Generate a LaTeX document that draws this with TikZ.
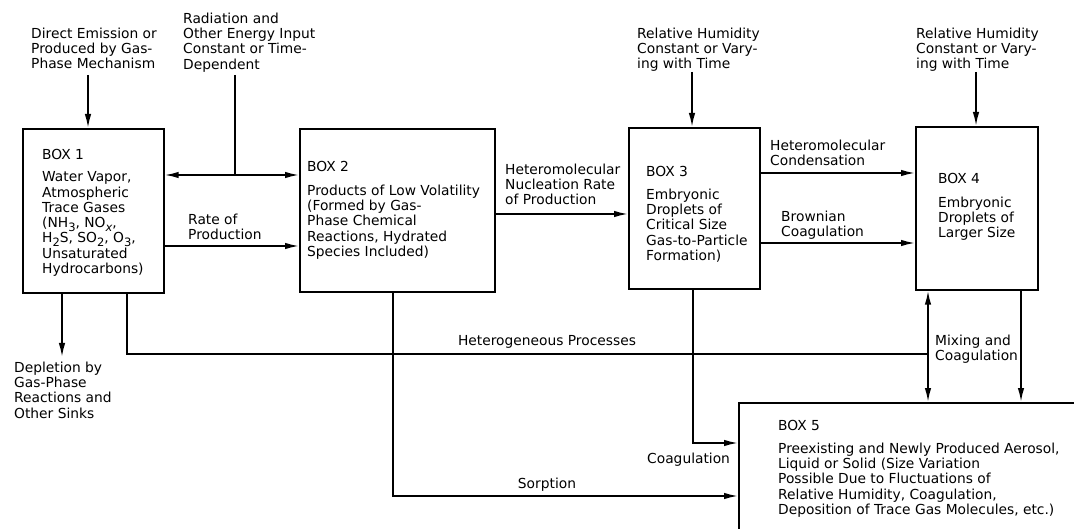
\documentclass[tikz,border=0pt]{standalone}
\usepackage{fontspec}
\setmainfont{DejaVu Sans}
\usetikzlibrary{arrows.meta}
\newcommand\sbs[1]{\raisebox{-3.5pt}{\fontsize{11.5}{12}\selectfont #1}}
\begin{document}
\begin{tikzpicture}[x=1pt,y=-1pt,
  box/.style={draw, line width=1.7pt, inner sep=0pt, anchor=north west},
  txt/.style={anchor=north west, inner sep=0pt, align=left, font=\fontsize{13.8}{15.3}\selectfont},
  conn/.style={line width=1.7pt},
  arr/.style={conn, -{Latex[length=14pt,width=6.5pt]}},
  darr/.style={conn, {Latex[length=14pt,width=6.5pt]}-{Latex[length=14pt,width=6.5pt]}}]
\useasboundingbox (0,0) rectangle (1074,529);
% boxes
\node[box, minimum width=141pt, minimum height=164pt] (b1) at (22,128) {};
\node[box, minimum width=195pt, minimum height=163pt] (b2) at (299,128) {};
\node[box, minimum width=131pt, minimum height=161pt] (b3) at (628,127) {};
\node[box, minimum width=122pt, minimum height=163pt] (b4) at (915,126) {};
\begin{scope}
\clip (0,0) rectangle (1074,529);
\node[box, minimum width=500pt, minimum height=300pt] (b5) at (738,402) {};
\end{scope}
% box texts
\node[txt] (b1h) at (42,149.5) {BOX 1};
\node[txt] (b1t) at (42,171.5) {Water Vapor,\\Atmospheric\\Trace Gases\\(NH\sbs{3}, NO\sbs{\itshape x},\\H\sbs{2}S, SO\sbs{2}, O\sbs{3},\\Unsaturated\\Hydrocarbons)};
\node[txt] (b2h) at (307,161.5) {BOX 2};
\node[txt] (b2t) at (307,184.5) {Products of Low Volatility\\(Formed by Gas-\\Phase Chemical\\Reactions, Hydrated\\Species Included)};
\node[txt] (b3h) at (646,166.5) {BOX 3};
\node[txt] (b3t) at (646,188.5) {Embryonic\\Droplets of\\Critical Size\\Gas-to-Particle\\Formation)};
\node[txt] (b4h) at (938,173.5) {BOX 4};
\node[txt] (b4t) at (938,196.5) {Embryonic\\Droplets of\\Larger Size};
\node[txt] (b5h) at (778,420.5) {BOX 5};
\node[txt] (b5t) at (778,442.5) {Preexisting and Newly Produced Aerosol,\\Liquid or Solid (Size Variation\\Possible Due to Fluctuations of\\Relative Humidity, Coagulation,\\Deposition of Trace Gas Molecules, etc.)};
% outside texts
\node[txt] (t1) at (31,27.5) {Direct Emission or\\Produced by Gas-\\Phase Mechanism};
\node[txt] (t2) at (183,12.5) {Radiation and\\Other Energy Input\\Constant or Time-\\Dependent};
\node[txt] (t3) at (637,27.5) {Relative Humidity\\Constant or Vary-\\ing with Time};
\node[txt] (t4) at (916,27.5) {Relative Humidity\\Constant or Vary-\\ing with Time};
\node[txt] (l1) at (188,213.5) {Rate of\\Production};
\node[txt] (l2) at (505,163.5) {Heteromolecular\\Nucleation Rate\\of Production};
\node[txt] (l3) at (770,139.5) {Heteromolecular\\Condensation};
\node[txt] (l4) at (781,210.5) {Brownian\\Coagulation};
\node[txt, anchor=north] (l5) at (547,335.5) {Heterogeneous Processes};
\node[txt] (l6) at (935,334.5) {Mixing and\\Coagulation};
\node[txt] (l7) at (647,452.5) {Coagulation};
\node[txt, anchor=north] (l8) at (547,477.5) {Sorption};
\node[txt] (l9) at (14,361.5) {Depletion by\\Gas-Phase\\Reactions and\\Other Sinks};
% free ends and junctions
\coordinate (s1) at (88,75);
\coordinate (s2) at (235,75);
\coordinate (j1) at (235,175);
\coordinate (s3) at (692,72);
\coordinate (s4) at (976,72);
\coordinate (e1) at (62,357);
\coordinate (j2) at (928,354);
% connectors
\draw[arr] (s1) -- (s1 |- b1.north);
\draw[conn] (s2) -- (j1);
\draw[darr] (b1.east |- j1) -- (b2.west |- j1);
\draw[arr] (b1.east |- 0,246) -- (b2.west |- 0,246);
\draw[arr] (b2.east |- 0,214) -- (b3.west |- 0,214);
\draw[arr] (s3) -- (s3 |- b3.north);
\draw[arr] (s4) -- (s4 |- b4.north);
\draw[arr] (b3.east |- 0,173) -- (b4.west |- 0,173);
\draw[arr] (b3.east |- 0,243) -- (b4.west |- 0,243);
\draw[arr] (e1 |- b1.south) -- (e1);
\draw[conn] (b1.south -| 127,0) |- (j2);
\draw[darr] (b4.south -| j2) -- (b5.north -| j2);
\draw[arr] (b4.south -| 1021,0) -- (b5.north -| 1021,0);
\draw[arr] (b3.south -| 693,0) |- (b5.west |- 0,443);
\draw[arr] (b2.south -| 393,0) |- (b5.west |- 0,496);
\end{tikzpicture}
\end{document}
